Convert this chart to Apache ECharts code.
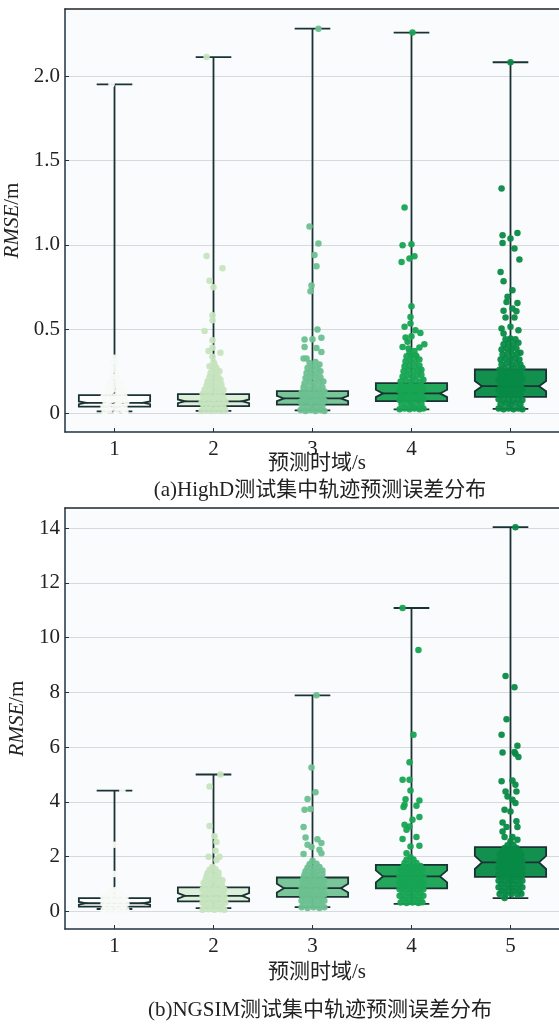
<!DOCTYPE html>
<html><head><meta charset="utf-8">
<script src="https://cdn.jsdelivr.net/npm/echarts@6/dist/echarts.min.js"></script>
<style>html,body{margin:0;padding:0;background:#fff}#c{width:559px;height:1025px}</style>
</head><body><div id="c"></div>
<script>
const categories = [1, 2, 3, 4, 5];
const xTickLabels = ['1', '2', '3', '4', '5'];
const yTicksA = [0, 0.5, 1.0, 1.5, 2.0];
const yTicksB = [0, 2, 4, 6, 8, 10, 12, 14];
const xAxisTitle = '预测时域/s';
const yAxisTitle = 'RMSE';
const captionA = '(a)HighD测试集中轨迹预测误差分布';
const captionB = '(b)NGSIM测试集中轨迹预测误差分布';

// box stats: [lowWhisker, q1, median, q3, highWhisker, notchLow, notchHigh]
const boxA = [
  [0.012, 0.040, 0.063, 0.109, 1.953, 0.055, 0.071],
  [0.015, 0.043, 0.072, 0.115, 2.115, 0.061, 0.083],
  [0.018, 0.053, 0.089, 0.132, 2.283, 0.073, 0.105],
  [0.024, 0.073, 0.119, 0.180, 2.260, 0.097, 0.141],
  [0.027, 0.099, 0.162, 0.261, 2.084, 0.132, 0.192]
];
const boxB = [
  [0.09, 0.18, 0.30, 0.49, 4.41, 0.25, 0.35],
  [0.12, 0.37, 0.57, 0.88, 5.00, 0.47, 0.67],
  [0.16, 0.53, 0.85, 1.24, 7.89, 0.69, 1.01],
  [0.28, 0.84, 1.28, 1.70, 11.08, 1.06, 1.50],
  [0.49, 1.26, 1.79, 2.35, 14.03, 1.55, 2.03]
];

// jittered samples: [offset from category, RMSE]
const ptsA1 = [[-0.10,0.01],[-0.05,0.02],[0.02,0.01],[0.08,0.02],[0.11,0.01],[-0.11,0.04],[-0.06,0.05],[0.0,0.04],[0.05,0.05],[0.10,0.04],[-0.09,0.07],[-0.03,0.08],[0.03,0.07],[0.08,0.08],[0.12,0.07],[-0.11,0.10],[-0.05,0.11],[0.01,0.10],[0.06,0.11],[0.10,0.10],[-0.08,0.13],[-0.02,0.14],[0.04,0.13],[0.09,0.14],[-0.06,0.16],[0.0,0.17],[0.05,0.16],[-0.04,0.19],[0.02,0.20],[0.06,0.19],[-0.01,0.22],[0.03,0.23],[0.0,0.26],[0.01,0.29],[-0.01,0.31],[0.0,0.33],[-0.03,1.953]];
const ptsA2 = [[-0.12,0.015],[-0.07,0.02],[-0.02,0.015],[0.03,0.02],[0.08,0.015],[0.12,0.02],[-0.10,0.04],[-0.05,0.045],[0.0,0.04],[0.05,0.045],[0.10,0.04],[-0.12,0.065],[-0.07,0.07],[-0.02,0.065],[0.03,0.07],[0.08,0.065],[0.12,0.07],[-0.10,0.09],[-0.05,0.095],[0.0,0.09],[0.05,0.095],[0.10,0.09],[-0.11,0.115],[-0.06,0.12],[-0.01,0.115],[0.04,0.12],[0.09,0.115],[-0.09,0.14],[-0.04,0.145],[0.01,0.14],[0.06,0.145],[0.10,0.14],[-0.07,0.165],[-0.02,0.17],[0.03,0.165],[0.08,0.17],[-0.06,0.19],[-0.01,0.195],[0.04,0.19],[0.07,0.20],[-0.04,0.215],[0.01,0.22],[0.05,0.215],[-0.03,0.24],[0.02,0.245],[0.06,0.25],[-0.01,0.265],[0.03,0.27],[-0.04,0.28],[0.01,0.29],[0.0,0.306],[-0.01,0.336],[-0.05,0.371],[0.07,0.36],[-0.01,0.39],[-0.01,0.435],[-0.09,0.49],[-0.01,0.553],[-0.01,0.583],[0.0,0.749],[-0.04,0.787],[0.09,0.862],[-0.07,0.935],[-0.07,2.115]];
const ptsA3 = [[-0.12,0.02],[-0.07,0.015],[-0.02,0.02],[0.03,0.015],[0.08,0.02],[0.12,0.015],[-0.10,0.045],[-0.05,0.04],[0.0,0.045],[0.05,0.04],[0.10,0.045],[-0.12,0.07],[-0.07,0.075],[-0.02,0.07],[0.03,0.075],[0.08,0.07],[0.12,0.075],[-0.10,0.10],[-0.05,0.095],[0.0,0.10],[0.05,0.095],[0.10,0.10],[-0.11,0.125],[-0.06,0.13],[-0.01,0.125],[0.04,0.13],[0.09,0.125],[0.12,0.13],[-0.09,0.155],[-0.04,0.15],[0.01,0.155],[0.06,0.15],[0.10,0.155],[-0.08,0.18],[-0.03,0.185],[0.02,0.18],[0.07,0.185],[0.11,0.19],[-0.07,0.21],[-0.02,0.215],[0.03,0.21],[0.08,0.215],[-0.06,0.24],[-0.01,0.245],[0.04,0.24],[0.08,0.25],[-0.05,0.27],[0.0,0.275],[0.05,0.27],[-0.03,0.30],[0.03,0.305],[0.07,0.29],[-0.09,0.326],[-0.06,0.326],[-0.08,0.395],[0.04,0.389],[0.09,0.364],[-0.08,0.439],[0.0,0.44],[0.09,0.45],[0.05,0.498],[-0.02,0.725],[-0.01,0.76],[0.04,0.873],[0.02,0.94],[0.06,1.008],[-0.03,1.11],[0.06,2.283]];
const ptsA4 = [[-0.12,0.025],[-0.07,0.03],[-0.02,0.025],[0.03,0.03],[0.08,0.025],[0.12,0.03],[-0.10,0.055],[-0.05,0.05],[0.0,0.055],[0.05,0.05],[0.10,0.055],[-0.12,0.08],[-0.07,0.085],[-0.02,0.08],[0.03,0.085],[0.08,0.08],[0.12,0.085],[-0.10,0.11],[-0.05,0.105],[0.0,0.11],[0.05,0.105],[0.10,0.11],[-0.12,0.135],[-0.07,0.14],[-0.02,0.135],[0.03,0.14],[0.08,0.135],[0.12,0.14],[-0.10,0.165],[-0.05,0.16],[0.0,0.165],[0.05,0.16],[0.10,0.165],[-0.11,0.19],[-0.06,0.195],[-0.01,0.19],[0.04,0.195],[0.09,0.19],[0.12,0.20],[-0.09,0.22],[-0.04,0.225],[0.01,0.22],[0.06,0.225],[0.10,0.23],[-0.08,0.25],[-0.03,0.255],[0.02,0.25],[0.07,0.255],[0.10,0.26],[-0.07,0.28],[-0.02,0.285],[0.03,0.28],[0.08,0.285],[-0.06,0.31],[-0.01,0.315],[0.04,0.31],[0.08,0.32],[-0.05,0.34],[0.0,0.345],[0.05,0.34],[-0.02,0.365],[0.03,0.37],[0.04,0.346],[-0.03,0.385],[0.08,0.391],[-0.09,0.395],[0.13,0.41],[-0.04,0.425],[0.0,0.458],[-0.06,0.451],[0.09,0.478],[0.04,0.494],[-0.01,0.534],[-0.07,0.514],[-0.01,0.573],[0.0,0.636],[-0.10,0.899],[-0.02,0.919],[0.03,0.933],[-0.09,0.998],[0.0,1.004],[-0.07,1.222],[0.01,2.26]];
const ptsA5 = [[-0.12,0.03],[-0.07,0.025],[-0.02,0.03],[0.03,0.025],[0.08,0.03],[0.12,0.025],[-0.10,0.055],[-0.05,0.06],[0.0,0.055],[0.05,0.06],[0.10,0.055],[-0.12,0.085],[-0.07,0.08],[-0.02,0.085],[0.03,0.08],[0.08,0.085],[0.12,0.08],[-0.10,0.11],[-0.05,0.115],[0.0,0.11],[0.05,0.115],[0.10,0.11],[-0.12,0.14],[-0.07,0.145],[-0.02,0.14],[0.03,0.145],[0.08,0.14],[0.12,0.145],[-0.10,0.17],[-0.05,0.175],[0.0,0.17],[0.05,0.175],[0.10,0.17],[-0.12,0.20],[-0.07,0.205],[-0.02,0.20],[0.03,0.205],[0.08,0.20],[0.12,0.205],[-0.10,0.23],[-0.05,0.235],[0.0,0.23],[0.05,0.235],[0.10,0.23],[-0.11,0.26],[-0.06,0.265],[-0.01,0.26],[0.04,0.265],[0.09,0.26],[0.12,0.27],[-0.09,0.29],[-0.04,0.295],[0.01,0.29],[0.06,0.295],[0.10,0.29],[-0.10,0.32],[-0.05,0.325],[0.0,0.32],[0.05,0.325],[0.09,0.32],[-0.08,0.35],[-0.03,0.355],[0.02,0.35],[0.07,0.355],[0.10,0.36],[-0.09,0.38],[-0.04,0.385],[0.01,0.38],[0.06,0.385],[-0.07,0.41],[-0.02,0.415],[0.03,0.41],[0.08,0.42],[-0.05,0.44],[0.0,0.445],[0.05,0.44],[-0.07,0.474],[0.0,0.514],[0.08,0.494],[-0.09,0.504],[-0.05,0.569],[0.04,0.569],[-0.07,0.609],[0.06,0.607],[0.02,0.623],[-0.04,0.662],[0.07,0.656],[-0.03,0.692],[0.02,0.731],[-0.07,0.785],[-0.10,0.84],[0.09,0.913],[0.04,0.979],[-0.08,1.012],[0.0,1.038],[-0.08,1.058],[0.07,1.071],[-0.09,1.335],[0.0,2.084]];

const ptsB1 = [[-0.11,0.04],[-0.05,0.05],[0.01,0.04],[0.07,0.05],[0.12,0.04],[-0.09,0.16],[-0.03,0.17],[0.03,0.16],[0.09,0.17],[-0.11,0.28],[-0.05,0.29],[0.01,0.28],[0.07,0.29],[0.12,0.28],[-0.09,0.40],[-0.03,0.41],[0.03,0.40],[0.09,0.41],[-0.11,0.52],[-0.05,0.53],[0.01,0.52],[0.07,0.53],[0.11,0.52],[-0.06,0.65],[0.0,0.66],[0.05,0.65],[-0.03,0.78],[0.02,0.79],[0.0,1.37],[0.0,2.44],[0.08,4.41]];
const ptsB2 = [[-0.11,0.06],[-0.05,0.08],[0.01,0.06],[0.07,0.08],[0.11,0.06],[-0.09,0.2],[-0.03,0.18],[0.03,0.2],[0.09,0.18],[-0.11,0.32],[-0.05,0.3],[0.01,0.32],[0.07,0.3],[0.12,0.32],[-0.09,0.44],[-0.03,0.42],[0.03,0.44],[0.09,0.42],[-0.11,0.56],[-0.05,0.54],[0.01,0.56],[0.07,0.54],[0.11,0.56],[-0.09,0.68],[-0.03,0.66],[0.03,0.68],[0.09,0.66],[-0.11,0.8],[-0.05,0.78],[0.01,0.8],[0.07,0.78],[0.11,0.8],[-0.09,0.92],[-0.03,0.9],[0.03,0.92],[0.09,0.9],[-0.10,1.04],[-0.04,1.02],[0.02,1.04],[0.08,1.02],[-0.08,1.16],[-0.02,1.14],[0.04,1.16],[0.09,1.14],[-0.07,1.28],[-0.01,1.26],[0.05,1.28],[-0.06,1.4],[0.0,1.38],[0.05,1.42],[-0.04,1.52],[0.02,1.54],[-0.01,1.63],[0.03,1.88],[-0.05,2.0],[0.06,2.0],[0.02,2.22],[0.03,2.54],[0.01,2.75],[-0.04,3.12],[-0.04,4.56],[0.07,5.0]];
const ptsB3 = [[-0.11,0.15],[-0.05,0.13],[0.01,0.15],[0.07,0.13],[0.12,0.15],[-0.09,0.27],[-0.03,0.25],[0.03,0.27],[0.09,0.25],[-0.11,0.39],[-0.05,0.37],[0.01,0.39],[0.07,0.37],[0.12,0.39],[-0.09,0.51],[-0.03,0.49],[0.03,0.51],[0.09,0.49],[-0.11,0.63],[-0.05,0.61],[0.01,0.63],[0.07,0.61],[0.12,0.63],[-0.09,0.75],[-0.03,0.73],[0.03,0.75],[0.09,0.73],[-0.11,0.87],[-0.05,0.85],[0.01,0.87],[0.07,0.85],[0.12,0.87],[-0.09,0.99],[-0.03,0.97],[0.03,0.99],[0.09,0.97],[-0.10,1.11],[-0.04,1.09],[0.02,1.11],[0.08,1.09],[0.12,1.12],[-0.09,1.23],[-0.03,1.21],[0.03,1.23],[0.09,1.21],[-0.08,1.35],[-0.02,1.33],[0.04,1.35],[0.10,1.37],[-0.07,1.47],[-0.01,1.45],[0.05,1.47],[0.10,1.5],[-0.05,1.6],[0.01,1.58],[0.07,1.62],[-0.03,1.72],[0.04,1.74],[0.0,1.85],[-0.09,2.10],[0.09,2.13],[0.07,2.25],[-0.01,2.35],[-0.05,2.44],[0.09,2.50],[0.05,2.64],[-0.07,2.70],[-0.09,3.08],[-0.08,3.71],[-0.02,3.74],[-0.05,4.11],[0.03,4.35],[-0.01,5.26],[0.04,7.89]];
const ptsB4 = [[-0.11,0.33],[-0.05,0.31],[0.01,0.33],[0.07,0.31],[0.11,0.34],[-0.09,0.45],[-0.03,0.43],[0.03,0.45],[0.09,0.43],[-0.12,0.57],[-0.06,0.55],[0.0,0.57],[0.06,0.55],[0.12,0.57],[-0.09,0.69],[-0.03,0.67],[0.03,0.69],[0.09,0.67],[-0.12,0.81],[-0.06,0.79],[0.0,0.81],[0.06,0.79],[0.12,0.81],[-0.09,0.93],[-0.03,0.91],[0.03,0.93],[0.09,0.91],[-0.12,1.05],[-0.06,1.03],[0.0,1.05],[0.06,1.03],[0.12,1.05],[-0.09,1.17],[-0.03,1.15],[0.03,1.17],[0.09,1.15],[-0.12,1.29],[-0.06,1.27],[0.0,1.29],[0.06,1.27],[0.12,1.29],[-0.09,1.41],[-0.03,1.39],[0.03,1.41],[0.09,1.39],[-0.11,1.53],[-0.05,1.51],[0.01,1.53],[0.07,1.51],[0.11,1.54],[-0.08,1.65],[-0.02,1.63],[0.04,1.65],[0.09,1.66],[-0.07,1.77],[-0.01,1.75],[0.05,1.77],[-0.05,1.89],[0.02,1.9],[-0.01,1.98],[-0.05,2.13],[-0.01,2.37],[0.08,2.40],[-0.09,2.65],[0.05,2.72],[-0.05,2.98],[-0.02,3.10],[-0.07,3.17],[0.01,3.35],[0.08,3.45],[-0.08,3.81],[0.05,3.86],[-0.07,3.90],[0.08,4.05],[-0.06,4.10],[-0.01,4.42],[-0.09,4.81],[-0.02,4.81],[-0.02,5.45],[0.02,6.45],[0.07,9.55],[-0.09,11.08]];
const ptsB5 = [[-0.11,0.64],[-0.05,0.62],[0.01,0.64],[0.07,0.62],[0.11,0.65],[-0.09,0.76],[-0.03,0.74],[0.03,0.76],[0.09,0.74],[-0.12,0.88],[-0.06,0.86],[0.0,0.88],[0.06,0.86],[0.12,0.88],[-0.09,1.0],[-0.03,0.98],[0.03,1.0],[0.09,0.98],[-0.12,1.12],[-0.06,1.1],[0.0,1.12],[0.06,1.1],[0.12,1.12],[-0.09,1.24],[-0.03,1.22],[0.03,1.24],[0.09,1.22],[-0.12,1.36],[-0.06,1.34],[0.0,1.36],[0.06,1.34],[0.12,1.36],[-0.09,1.48],[-0.03,1.46],[0.03,1.48],[0.09,1.46],[-0.12,1.6],[-0.06,1.58],[0.0,1.6],[0.06,1.58],[0.12,1.6],[-0.09,1.72],[-0.03,1.7],[0.03,1.72],[0.09,1.7],[-0.12,1.84],[-0.06,1.82],[0.0,1.84],[0.06,1.82],[0.12,1.84],[-0.09,1.96],[-0.03,1.94],[0.03,1.96],[0.09,1.94],[-0.11,2.08],[-0.05,2.06],[0.01,2.08],[0.07,2.06],[0.11,2.09],[-0.08,2.2],[-0.02,2.18],[0.04,2.2],[0.09,2.21],[-0.06,2.32],[0.0,2.3],[0.06,2.32],[-0.03,2.42],[0.03,2.43],[0.0,2.56],[-0.06,2.72],[0.02,2.72],[0.07,2.62],[-0.08,2.92],[-0.04,3.08],[0.07,3.08],[-0.08,3.25],[0.06,3.29],[0.0,3.65],[-0.06,3.71],[0.05,3.96],[0.02,4.08],[-0.03,4.20],[-0.05,4.38],[0.06,4.38],[0.05,4.63],[0.02,4.78],[-0.09,4.75],[0.08,5.64],[-0.08,5.80],[0.04,5.82],[0.05,5.76],[0.07,6.05],[-0.09,6.45],[-0.04,7.02],[0.04,8.19],[-0.05,8.6],[0.05,14.03],[-0.06,0.49]];

const pointColors = ['#f7faf7', '#c6e4bf', '#6bc090', '#17a453', '#078a46'];
const boxFills = ['#ffffff', '#dcefd8', '#79c698', '#22a75b', '#138f4e'];
const edge = '#1b3234';
const axisColor = '#1f3340';
const serif = '"Liberation Serif", "Noto Sans CJK SC", serif';

const chart = echarts.init(document.getElementById('c'), null, {renderer: 'canvas'});

function renderBox(params, api) {
  const x = api.value(0);
  const yv = i => api.coord([x, api.value(i)])[1];
  const cx = api.coord([x, 0])[0];
  const yLo = yv(1), yQ1 = yv(2), yMed = yv(3), yQ3 = yv(4), yHi = yv(5), yNl = yv(6), yNh = yv(7);
  const w = api.size([0.72, 0])[0];
  const cw = api.size([0.36, 0])[0];
  const L = cx - w / 2, R = cx + w / 2, ins = w * 0.1;
  const ls = {stroke: edge, lineWidth: 1.8, fill: null};
  return {type: 'group', children: [
    {type: 'line', shape: {x1: cx, y1: yHi, x2: cx, y2: yQ3}, style: ls},
    {type: 'line', shape: {x1: cx, y1: yQ1, x2: cx, y2: yLo}, style: ls},
    {type: 'line', shape: {x1: cx - cw / 2, y1: yHi, x2: cx + cw / 2, y2: yHi}, style: ls},
    {type: 'line', shape: {x1: cx - cw / 2, y1: yLo, x2: cx + cw / 2, y2: yLo}, style: ls},
    {type: 'polygon', shape: {points: [[L, yQ3], [R, yQ3], [R, yNh], [R - ins, yMed], [R, yNl], [R, yQ1], [L, yQ1], [L, yNl], [L + ins, yMed], [L, yNh]]},
      style: {fill: boxFills[params.dataIndex], stroke: edge, lineWidth: 1.8}},
    {type: 'line', shape: {x1: L + ins, y1: yMed, x2: R - ins, y2: yMed}, style: ls}
  ]};
}

function makeGridSeries(gi, box, ptsList) {
  const out = [{
    type: 'custom', xAxisIndex: gi, yAxisIndex: gi, z: 2,
    renderItem: renderBox,
    encode: {x: 0, y: [1, 2, 3, 4, 5, 6, 7]},
    data: categories.map((c, i) => [c].concat(box[i])),
    silent: true
  }];
  ptsList.forEach((pts, i) => {
    out.push({
      type: 'scatter', xAxisIndex: gi, yAxisIndex: gi, z: 3,
      symbolSize: 6.5,
      itemStyle: {color: pointColors[i], opacity: 0.95},
      data: pts.map(p => [categories[i] + p[0], p[1]]),
      silent: true
    });
  });
  return out;
}

const xBase = {
  type: 'value', min: 0.5, max: 5.49,
  axisLine: {show: true, onZero: false, lineStyle: {color: axisColor, width: 1.5}},
  axisTick: {show: true, inside: true, length: 4, customValues: categories, lineStyle: {color: axisColor}},
  axisLabel: {customValues: categories, formatter: v => xTickLabels[categories.indexOf(v)], fontFamily: serif, fontSize: 21, color: '#222', margin: 7},
  splitLine: {show: false}
};
const xTop = {
  type: 'value', min: 0.5, max: 5.49, position: 'top',
  axisLine: {show: true, onZero: false, lineStyle: {color: '#1e262a', width: 1.5}},
  axisTick: {show: false}, axisLabel: {show: false}, splitLine: {show: false}
};
function yAxisFor(gi, min, max, ticks, fmt) {
  return {
    type: 'value', gridIndex: gi, min: min, max: max,
    name: '{i|' + yAxisTitle + '}/m', nameLocation: 'middle', nameGap: 37, nameRotate: 90,
    nameTextStyle: {fontFamily: serif, fontSize: 21, color: '#222', rich: {i: {fontStyle: 'italic', fontFamily: serif, fontSize: 21, color: '#222'}}},
    axisLine: {show: true, onZero: false, lineStyle: {color: axisColor, width: 1.5}},
    axisTick: {show: true, inside: true, length: 4, customValues: ticks, lineStyle: {color: axisColor}},
    axisLabel: {customValues: ticks, formatter: fmt, fontFamily: serif, fontSize: 21, color: '#222', margin: 5},
    splitLine: {show: true, lineStyle: {color: '#d6d9dd', width: 1}}
  };
}

const option = {
  animation: false,
  backgroundColor: '#ffffff',
  grid: [
    {left: 65, right: 0, top: 9, height: 423, show: true, backgroundColor: '#fafbfc', borderWidth: 0, containLabel: false, outerBoundsMode: 'none'},
    {left: 65, right: 0, top: 508, height: 421, show: true, backgroundColor: '#fafbfc', borderWidth: 0, containLabel: false, outerBoundsMode: 'none'}
  ],
  xAxis: [
    Object.assign({gridIndex: 0}, xBase),
    Object.assign({gridIndex: 1}, xBase),
    Object.assign({gridIndex: 0}, xTop),
    Object.assign({gridIndex: 1}, xTop)
  ],
  yAxis: [
    yAxisFor(0, -0.11, 2.4, yTicksA, v => v === 0 ? '0' : v.toFixed(1)),
    yAxisFor(1, -0.64, 14.73, yTicksB, v => String(v))
  ],
  series: makeGridSeries(0, boxA, [ptsA1, ptsA2, ptsA3, ptsA4, ptsA5])
    .concat(makeGridSeries(1, boxB, [ptsB1, ptsB2, ptsB3, ptsB4, ptsB5])),
  graphic: [
    {type: 'text', style: {text: xAxisTitle, x: 317, y: 463, align: 'center', verticalAlign: 'middle', font: '21px ' + serif, fill: '#222'}},
    {type: 'text', style: {text: captionA, x: 320, y: 490, align: 'center', verticalAlign: 'middle', font: '21px ' + serif, fill: '#222'}},
    {type: 'text', style: {text: xAxisTitle, x: 317, y: 972, align: 'center', verticalAlign: 'middle', font: '21px ' + serif, fill: '#222'}},
    {type: 'text', style: {text: captionB, x: 320, y: 1010, align: 'center', verticalAlign: 'middle', font: '21px ' + serif, fill: '#222'}}
  ]
};
chart.setOption(option);
</script>
</body></html>
